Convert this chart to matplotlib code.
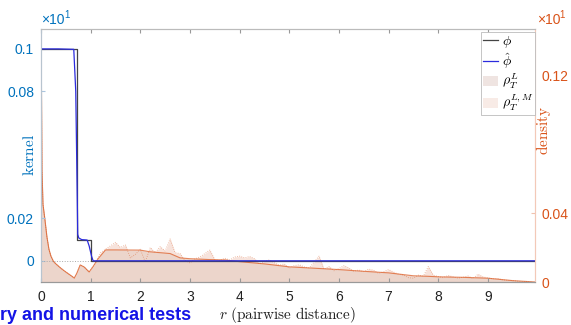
import numpy as np
import matplotlib
matplotlib.use("Agg")
import matplotlib.pyplot as plt
from matplotlib.lines import Line2D
from matplotlib.patches import Patch
from matplotlib.font_manager import FontProperties

plt.rcParams['font.family'] = ['Liberation Sans', 'DejaVu Sans']

# kernel phi (true) and phi-hat (estimated)
r_phi = [0, 0.72, 0.72, 1.0, 1.0, 9.95]
phi = [0.1, 0.1, 0.01, 0.01, 0, 0]
r_phihat = [0, 0.35, 0.66, 0.70, 0.73, 0.74, 0.76, 0.82, 0.93, 0.97, 1.02, 1.05, 9.95]
phihat = [0.1, 0.1, 0.0998, 0.08, 0.03, 0.0125, 0.0108, 0.0100, 0.0098, 0.007, 0.002, 0, 0]

# density rho_T^L (smooth)
r_L = [0, 0.01, 0.02, 0.04, 0.08, 0.12, 0.16, 0.2, 0.25, 0.3, 0.4, 0.5, 0.6, 0.67,
       0.72, 0.79, 0.87, 0.97, 1.05, 1.15, 1.3, 1.5, 2.0, 2.2, 2.6, 2.8, 3.0, 3.4,
       3.7, 4.0, 4.5, 5.0, 5.5, 6.0, 6.5, 7.0, 7.5, 7.8, 8.0, 8.5, 9.0, 9.5, 9.95]
rho_L = [0.147, 0.11, 0.065, 0.045, 0.036, 0.026, 0.019, 0.015, 0.012, 0.0105, 0.008,
         0.0058, 0.0038, 0.0023, 0.005, 0.0099, 0.0087, 0.0058, 0.009, 0.0135, 0.0186,
         0.0186, 0.0185, 0.0175, 0.0165, 0.014, 0.0135, 0.013, 0.0128, 0.0118, 0.0105,
         0.0088, 0.008, 0.0072, 0.0062, 0.0053, 0.0036, 0.0033, 0.003, 0.0027, 0.0022,
         0.0008, 0.0]

# density rho_T^{L,M} (noisy empirical)
r_LM_head = r_L[:19]
rho_LM_head = rho_L[:19]
r_LM_tail = np.round(np.arange(1.1, 9.95, 0.1), 2)
rho_LM_tail = [0.011, 0.017, 0.019, 0.021, 0.023, 0.020, 0.0215, 0.014, 0.016, 0.019,
               0.0116, 0.020, 0.017, 0.0205, 0.018, 0.025, 0.017, 0.0165, 0.0125, 0.011,
               0.0135, 0.0145, 0.0165, 0.0185, 0.013, 0.0125, 0.0138, 0.0128, 0.0145, 0.015,
               0.014, 0.0148, 0.0135, 0.0105, 0.012, 0.0128, 0.0112, 0.0098, 0.0105, 0.008,
               0.0095, 0.010, 0.0088, 0.0082, 0.0115, 0.015, 0.0075, 0.009, 0.0065, 0.0078,
               0.0095, 0.0082, 0.0062, 0.007, 0.006, 0.0075, 0.0068, 0.005, 0.006, 0.0072,
               0.0058, 0.0045, 0.004, 0.0025, 0.0022, 0.004, 0.0035, 0.009, 0.004, 0.0032,
               0.0025, 0.0038, 0.003, 0.0022, 0.0028, 0.0035, 0.002, 0.0045, 0.003, 0.0024,
               0.0018, 0.002, 0.0012, 0.001, 0.0008, 0.0005, 0.0003, 0.0002, 0.0]
r_LM = list(r_LM_head) + list(r_LM_tail)
rho_LM = list(rho_LM_head) + rho_LM_tail

blue = '#0072BD'
orange = '#D95319'

fig = plt.figure(figsize=(5.71, 3.25), dpi=100)
ax = fig.add_axes([0.0718, 0.1323, 0.8652, 0.7785])
ax2 = ax.twinx()

# densities on right axis
ax2.fill_between(r_LM, rho_LM, color='#f7e3dc', lw=0)
ax2.plot(r_LM, rho_LM, ':', color=orange, lw=0.6, alpha=0.5)
ax2.fill_between(r_L, rho_L, color='#ecd5cb', lw=0)
ax2.plot(r_L, rho_L, '-', color=orange, lw=0.8, alpha=0.7)
ax2.set_ylim(0, 0.1467)
ax2.set_yticks([0, 0.04, 0.12])
ax2.set_yticklabels(['0', '0.04', '0.12'])

# kernels on left axis, drawn above the densities
ax.set_zorder(ax2.get_zorder() + 1)
ax.patch.set_visible(False)
ax.plot([0, 1.0], [0, 0], ':', color='#aaaaaa', lw=0.7)
ax.plot(r_phi, phi, color='#444444', lw=0.9)
ax.plot(r_phihat, phihat, color='#2b2bdd', lw=0.9)
ax.set_xlim(0, 9.95)
ax.set_ylim(-0.01, 0.1094)
ax.set_xticks(range(10))
ax.set_yticks([0, 0.02, 0.08, 0.1])
ax.set_yticklabels(['0', '0.02', '0.08', '0.1'])

ax.tick_params(axis='x', direction='in', top=True, length=3, labelsize=10,
               color='#999999', labelcolor='#222222', pad=6)
ax.tick_params(axis='y', direction='in', length=3, labelsize=10,
               color='#aac4dd', labelcolor=blue, pad=5)
ax2.tick_params(axis='y', direction='in', length=3, labelsize=10,
                color='#f0c2ae', labelcolor=orange, pad=5)
for a in (ax, ax2):
    a.spines['top'].set_color('#bbbbbb')
    a.spines['bottom'].set_color('#999999')
    a.spines['left'].set_color('#b8c4cf')
    a.spines['right'].set_color('#f3c9b8')
    for s in a.spines.values():
        s.set_linewidth(0.8)

# labels
fig.text(0.051, 0.523, r'$\mathrm{kernel}$', rotation=90, ha='center', va='center',
         color=blue, fontsize=11, math_fontfamily='cm')
fig.text(0.951, 0.60, r'$\mathrm{density}$', rotation=90, ha='center', va='center',
         color=orange, fontsize=11, math_fontfamily='cm')
fig.text(0.504, 0.03, r'$r\ \mathrm{(pairwise\ distance)}$', ha='center', va='center',
         color='#222222', fontsize=11, math_fontfamily='cm')

# exponent markers
fig.text(0.072, 0.925, '\u00d710', color=blue, fontsize=10, va='baseline')
fig.text(0.112, 0.945, '1', color=blue, fontsize=7, va='baseline')
fig.text(0.940, 0.925, '\u00d710', color=orange, fontsize=10, va='baseline')
fig.text(0.980, 0.945, '1', color=orange, fontsize=7, va='baseline')

handles = [Line2D([], [], color='#444444', lw=0.9),
           Line2D([], [], color='#2b2bdd', lw=0.9),
           Patch(facecolor='#efe4e1', edgecolor='none'),
           Patch(facecolor='#f8ebe6', edgecolor='none')]
labels = [r'$\phi$', r'$\hat{\phi}$', r'$\rho_T^L$', r'$\rho_T^{L,M}$']
leg = ax.legend(handles, labels, loc='upper right', bbox_to_anchor=(1.0, 0.99),
                prop=FontProperties(size=10, math_fontfamily='cm'),
                fancybox=False, framealpha=1, edgecolor='#bbbbbb',
                handlelength=1.1, handletextpad=0.25, borderpad=0.15,
                labelspacing=0.1, borderaxespad=0)
leg.get_frame().set_linewidth(0.6)

# clipped page heading under the chart
fig.text(0.0, 0.016, 'ry and numerical tests', color='#1414e6', fontsize=13,
         fontweight='bold', va='baseline')

fig.savefig('out.png', dpi=100)
